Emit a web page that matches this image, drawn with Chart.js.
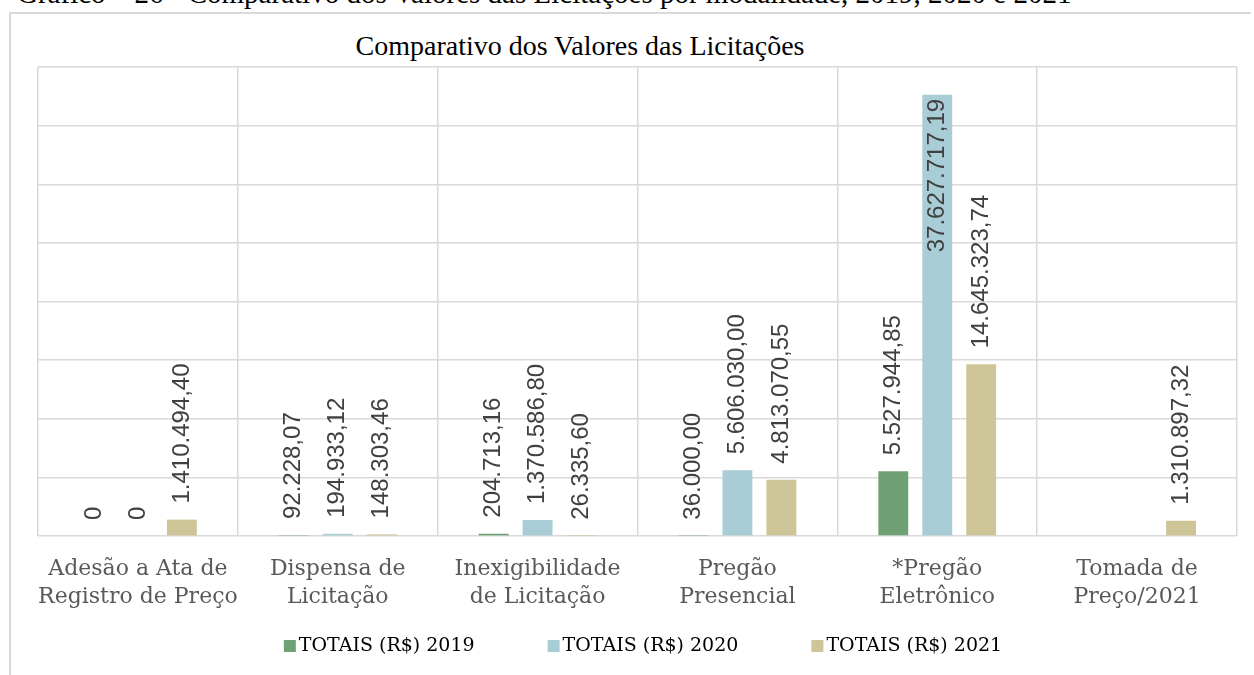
<!DOCTYPE html>
<html lang="pt-BR">
<head>
<meta charset="utf-8">
<title>Comparativo dos Valores das Licitações</title>
<script src="https://cdn.jsdelivr.net/npm/chart.js@4.4.1/dist/chart.umd.min.js"></script>
<style>
  html, body { margin: 0; padding: 0; background: #fff; overflow: hidden; }
  body { width: 1254px; height: 675px; position: relative; }
  .caption {
    position: absolute; left: 17px; top: -21px; white-space: nowrap;
    font-family: "Liberation Serif", "Times New Roman", serif;
    font-size: 29px; line-height: 29px; color: #000;
  }
  .frame {
    position: absolute; left: 9px; top: 12px; width: 1240px; height: 700px;
    border-left: 2px solid #d9d9d9; border-top: 2px solid #d9d9d9;
  }
  .title {
    position: absolute; left: 0; width: 1160px; top: 30px; text-align: center;
    font-family: "Liberation Serif", "Times New Roman", serif;
    font-size: 28px; line-height: 32px; color: #000;
  }
  #chart { position: absolute; left: 10px; top: 13px; }
</style>
</head>
<body>
<div class="caption">Gráfico – 26 - Comparativo dos Valores das Licitações por modalidade, 2019, 2020 e 2021</div>
<div class="frame"></div>
<div class="title">Comparativo dos Valores das Licitações</div>
<canvas id="chart" width="1244" height="662"></canvas>
<script>
// categorias (modalidades)
const categories = [
  ['Adesão a Ata de', 'Registro de Preço'],
  ['Dispensa de', 'Licitação'],
  ['Inexigibilidade', 'de Licitação'],
  ['Pregão', 'Presencial'],
  ['*Pregão', 'Eletrônico'],
  ['Tomada de', 'Preço/2021']
];

// valores em R$
const totais2019 = [0, 92228.07, 204713.16, 36000.00, 5527944.85, null];
const totais2020 = [0, 194933.12, 1370586.80, 5606030.00, 37627717.19, null];
const totais2021 = [1410494.40, 148303.46, 26335.60, 4813070.55, 14645323.74, 1310897.32];

const seriesNames = ['TOTAIS (R$) 2019', 'TOTAIS (R$) 2020', 'TOTAIS (R$) 2021'];
const seriesColors = ['#70a175', '#a8cdd7', '#cdc597'];

// escala do eixo y (sem rótulos visíveis)
const yMin = 0;
const yMax = 40000000;
const yStep = 5000000;

function formatBRL(v) {
    if (v === 0) return '0';
    const parts = v.toFixed(2).split('.');
    const inteiro = parts[0].replace(/\B(?=(\d{3})+(?!\d))/g, '.');
    return inteiro + ',' + parts[1];
}

// rótulos de valor na vertical, acima da barra (ou dentro, se não couber)
const valueLabels = {
    id: 'valueLabels',
    afterDatasetsDraw(chart) {
        const ctx = chart.ctx;
        const top = chart.chartArea.top;
        ctx.save();
        ctx.font = '24px "Liberation Sans", Arial, sans-serif';
        ctx.fillStyle = '#404040';
        ctx.textBaseline = 'middle';
        chart.data.datasets.forEach((ds, i) => {
            chart.getDatasetMeta(i).data.forEach((bar, j) => {
                const v = ds.data[j];
                if (v === null || v === undefined) return;
                const text = formatBRL(v);
                const w = ctx.measureText(text).width;
                ctx.save();
                ctx.translate(bar.x, bar.y);
                ctx.rotate(-Math.PI / 2);
                if (bar.y - 16 - w < top) {
                    ctx.textAlign = 'right';
                    ctx.fillText(text, -4, 0);
                } else {
                    ctx.textAlign = 'left';
                    ctx.fillText(text, 16, 0);
                }
                ctx.restore();
            });
        });
        ctx.restore();
    }
};

// legenda desenhada à mão para controlar o espaçamento
const bottomLegend = {
    id: 'bottomLegend',
    afterDraw(chart) {
        const ctx = chart.ctx;
        const box = 12, gap = 3, spacing = 73;
        const cy = 633;
        ctx.save();
        ctx.font = '19px "DejaVu Serif", serif';
        ctx.textBaseline = 'middle';
        const items = chart.data.datasets.map(ds => ({
            text: ds.label, color: ds.backgroundColor,
            w: box + gap + ctx.measureText(ds.label).width
        }));
        const total = items.reduce((s, it) => s + it.w, 0) + spacing * (items.length - 1);
        let x = chart.width / 2 + 11 - total / 2;
        items.forEach(it => {
            ctx.fillStyle = it.color;
            ctx.fillRect(x, cy - box / 2, box, box);
            ctx.fillStyle = '#000';
            ctx.textAlign = 'left';
            ctx.fillText(it.text, x + box + gap, cy);
            x += it.w + spacing;
        });
        ctx.restore();
    }
};

const allSeries = [totais2019, totais2020, totais2021];

new Chart(document.getElementById('chart'), {
    type: 'bar',
    data: {
        labels: categories,
        datasets: allSeries.map((values, i) => ({
            label: seriesNames[i],
            data: values,
            backgroundColor: seriesColors[i],
            borderWidth: 0,
            categoryPercentage: 0.66,
            barPercentage: 0.68
        }))
    },
    options: {
        responsive: false,
        animation: false,
        devicePixelRatio: 1,
        layout: {
            padding: { left: 28, right: 17, top: 54, bottom: 45 }
        },
        scales: {
            x: {
                grid: { color: '#d9d9d9', lineWidth: 1.5, drawTicks: false, offset: true },
                border: { display: false },
                ticks: {
                    color: '#595959',
                    padding: 19,
                    autoSkip: false,
                    maxRotation: 0,
                    minRotation: 0,
                    font: { family: '"DejaVu Serif", serif', size: 22, lineHeight: 1.27 }
                }
            },
            y: {
                min: yMin,
                max: yMax,
                ticks: { display: false, stepSize: yStep },
                grid: { color: '#d9d9d9', lineWidth: 1.5, drawTicks: false },
                border: { display: false }
            }
        },
        plugins: {
            legend: { display: false },
            tooltip: { enabled: false }
        }
    },
    plugins: [valueLabels, bottomLegend]
});
</script>
</body>
</html>
